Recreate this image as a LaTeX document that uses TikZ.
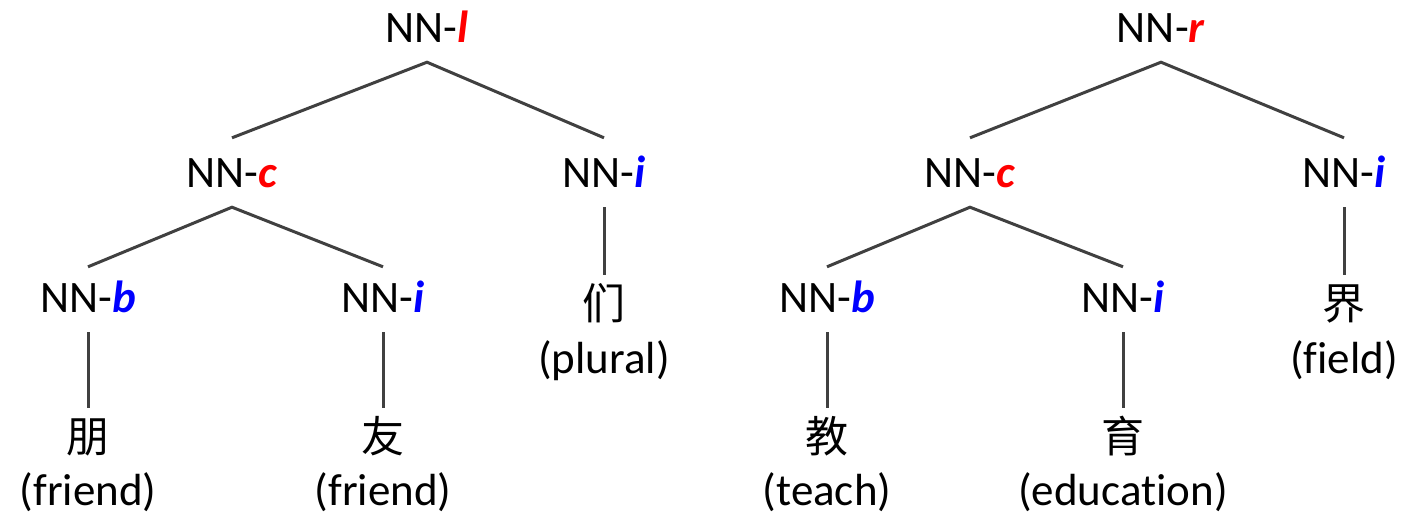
\documentclass[tikz,border=0pt]{standalone}
\usepackage{fontspec}
\setmainfont{Carlito}[Ligatures=NoCommon]
\newfontfamily\cjk{Noto Sans CJK SC}
\definecolor{lred}{RGB}{255,0,0}
\definecolor{lblue}{RGB}{0,0,255}
\definecolor{edge}{RGB}{64,64,64}
\begin{document}
\begin{tikzpicture}[x=1pt,y=-1pt,
  every node/.style={font=\fontsize{45}{54}\selectfont},
  lbl/.style={anchor=base,inner xsep=0pt,inner ysep=20pt,text height=29pt,text depth=0pt},
  han/.style={anchor=base,inner xsep=0pt,inner ysep=7pt,text height=37pt,text depth=0pt,font=\fontsize{43}{50}\selectfont\cjk},
  gloss/.style={anchor=base,inner sep=0pt},
  branch/.style={draw=edge,line width=3pt}]
\useasboundingbox (0,0) rectangle (1404,517);
\newcommand{\tr}[1]{\textcolor{lred}{\textbf{\textit{#1}}}}
\newcommand{\tb}[1]{\textcolor{lblue}{\textbf{\textit{#1}}}}
% left tree
\node[lbl] (l0) at (427,42) {NN-\tr{l}};
\node[lbl] (l1c) at (232,187) {NN-\tr{c}};
\node[lbl] (l1i) at (604,187) {NN-\tb{i}};
\node[lbl] (l2b) at (88,312) {NN-\tb{b}};
\node[lbl] (l2i) at (383,312) {NN-\tb{i}};
\node[han] (h1) at (88,452) {朋};
\node[han] (h2) at (383,452) {友};
\node[han] (h3) at (604,319) {们};
\node[gloss] (g1) at (88,505) {(friend)};
\node[gloss] (g2) at (383,505) {(friend)};
\node[gloss] (g3) at (604,373) {(plural)};
\draw[branch] (l1c.north) -- (l0.south) -- (l1i.north);
\draw[branch] ([yshift=-4pt]l2b.north) -- (l1c.south) -- ([yshift=-4pt]l2i.north);
\draw[branch] (l2b.south) -- (h1.north);
\draw[branch] (l2i.south) -- (h2.north);
\draw[branch] (l1i.south) -- (h3.north);
% right tree
\node[lbl] (r0) at (1161,42) {NN-\tr{r}};
\node[lbl] (r1c) at (970,187) {NN-\tr{c}};
\node[lbl] (r1i) at (1344,187) {NN-\tb{i}};
\node[lbl] (r2b) at (827,312) {NN-\tb{b}};
\node[lbl] (r2i) at (1123,312) {NN-\tb{i}};
\node[han] (h4) at (827,452) {教};
\node[han] (h5) at (1123,452) {育};
\node[han] (h6) at (1344,319) {界};
\node[gloss] (g4) at (827,505) {(teach)};
\node[gloss] (g5) at (1123,505) {(education)};
\node[gloss] (g6) at (1344,373) {(field)};
\draw[branch] (r1c.north) -- (r0.south) -- (r1i.north);
\draw[branch] ([yshift=-4pt]r2b.north) -- (r1c.south) -- ([yshift=-4pt]r2i.north);
\draw[branch] (r2b.south) -- (h4.north);
\draw[branch] (r2i.south) -- (h5.north);
\draw[branch] (r1i.south) -- (h6.north);
\end{tikzpicture}
\end{document}
